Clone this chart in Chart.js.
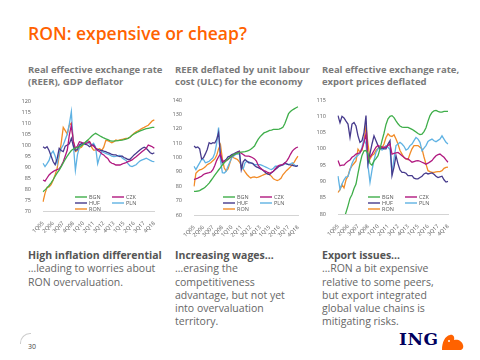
<!DOCTYPE html>
<html><head><meta charset="utf-8">
<script src="https://cdn.jsdelivr.net/npm/chart.js@4"></script>
<style>
body{margin:0;width:480px;height:360px;background:#fff;position:relative;overflow:hidden;font-family:"Open Sans",sans-serif;}
.abs{position:absolute;}
#title{left:28px;top:21px;font-size:17.5px;font-weight:600;color:#FF6200;white-space:nowrap}
.sub{top:64px;font-size:9.5px;font-weight:700;color:#7a7a7a;line-height:12px;white-space:nowrap}
.txt{top:249px;font-size:10.5px;color:#666;line-height:13.3px;white-space:nowrap}
.txt b{color:#555;font-weight:700}
canvas{position:absolute}
#pg{left:28px;top:342px;font-size:7px;color:#444}
#arc{left:20px;top:333px;width:10px;height:10px;border-left:1px solid #ccc;border-top:1px solid #ccc;border-radius:10px 0 0 0}
#ing{left:399px;top:329px;font-family:"DejaVu Serif",serif;font-weight:700;font-size:17px;color:#00005e;letter-spacing:0.5px}
</style></head>
<body>
<div id="title" class="abs">RON: expensive or cheap?</div>
<div class="abs sub" style="left:28px">Real effective exchange rate<br>(REER), GDP deflator</div>
<div class="abs sub" style="left:175px">REER deflated by unit labour<br>cost (ULC) for the economy</div>
<div class="abs sub" style="left:322px">Real effective exchange rate,<br>export prices deflated</div>

<canvas id="c1" width="140" height="145" style="left:20px;top:92px"></canvas>
<canvas id="c2" width="140" height="150" style="left:167px;top:91px"></canvas>
<canvas id="c3" width="140" height="149" style="left:314px;top:91px"></canvas>

<div class="abs txt" style="left:28px"><b>High inflation differential</b><br>…leading to worries about<br>RON overvaluation.</div>
<div class="abs txt" style="left:175px"><b>Increasing wages…</b><br>…erasing the<br>competitiveness<br>advantage, but not yet<br>into overvaluation<br>territory.</div>
<div class="abs txt" style="left:322px"><b>Export issues…</b><br>…RON a bit expensive<br>relative to some peers,<br>but export integrated<br>global value chains is<br>mitigating risks.</div>

<div id="arc" class="abs"></div>
<div id="pg" class="abs">30</div>
<div id="ing" class="abs">ING</div>
<svg class="abs" style="left:440px;top:332px" width="26" height="20" viewBox="0 0 26 20">
<path d="M2 18 C2 10 5 4 10 3 C13 2 15 5 14 8 C18 7 22 9 23 13 C24 16 22 18 20 18 Z" fill="#FF6200"/>
<circle cx="9" cy="9" r="1" fill="#fff"/>
</svg>

<script>
const quarters = ['1Q05','2Q05','3Q05','4Q05','1Q06','2Q06','3Q06','4Q06','1Q07','2Q07','3Q07','4Q07',
'1Q08','2Q08','3Q08','4Q08','1Q09','2Q09','3Q09','4Q09','1Q10','2Q10','3Q10','4Q10','1Q11','2Q11','3Q11','4Q11',
'1Q12','2Q12','3Q12','4Q12','1Q13','2Q13','3Q13','4Q13','1Q14','2Q14','3Q14','4Q14','1Q15','2Q15','3Q15','4Q15',
'1Q16','2Q16','3Q16','4Q16','1Q17','2Q17','3Q17','4Q17','1Q18','2Q18','3Q18','4Q18'];
const currencies = ['BGN','CZK','HUF','PLN','RON'];

// Chart 1: REER, GDP deflator
const reerBGN = [78.8,79.6,80.5,81.6,82.8,84.2,85.8,87.3,88.6,90.2,91.8,93.5,95,96.3,97.5,98.2,98.6,98.9,99.2,99.7,100.5,101.4,102.2,103,104,104.8,105.3,104.8,104.2,103.7,103.2,102.8,102.4,102,101.8,101.8,101.9,102,102.1,102.2,102.4,102.7,103,103.6,104.4,105,105.5,106,106.4,106.8,107.1,107.4,107.6,107.8,108,108];
const reerCZK = [84.1,83.6,85,86.4,87.3,87.9,88.5,88.8,89.2,90.5,92.4,95,97.7,104.5,109,101.5,98.5,99.5,101.5,101.2,100.8,100.8,101,101.5,100,99.5,98.5,97.5,97,96,95.5,94.5,93.9,92.4,91.7,91.4,90.9,90.9,90.9,91.3,91.7,92,92.4,92.8,93.2,94,94.7,95.5,96.2,97,97.7,98.5,100,99.6,99.2,98.5];
const reerHUF = [99.2,98.5,99.2,97.5,95,92.5,91,93.9,98.5,97.5,97,99.5,100,100.5,103,99.5,97.5,98,100,100.5,100.8,100.3,100,99.2,99.8,100,98.5,98,97.7,97.5,97.2,97,96.5,96.2,95.7,95.5,95.5,95,94.7,95,94.3,93.9,93.4,93.5,94.5,95.5,96.2,97,97.8,98.5,99,98.5,97.5,96.5,96,96.5];
const reerPLN = [91.7,90.2,91.5,93,96,97.2,95,91.5,96.2,98.5,100,102.5,105,109.5,115.2,100,88.5,95.5,99,100.8,100.3,100.5,101.5,100.5,100,100.8,99,91.5,94.7,97,96.6,96.2,95.8,95.5,94.9,94.7,94.8,95.2,95.3,94.2,93.5,93,91.5,90.5,90.2,90.6,91,92,92.8,93.2,93.6,94,93.5,93,92.6,92.4];
const reerRON = [74.2,78,80.8,81,82,84,86.5,89.5,95,101,108,106.5,105,109,110,102,97,97.5,98.5,99,100.3,101,102,101.5,99,97.7,97.7,98,98.3,97.5,99,102,102,101.5,101,101.5,102.3,102,102.3,102.5,102.8,103,103,103.5,104.5,105.3,106,106.5,107,107.6,108,108.5,109,110,111,111.4];

// Chart 2: REER deflated by ULC
const ulcBGN = [76.4,76.5,76.7,77,77.8,78.5,79.5,80.8,82.2,84,85.8,87.7,89.5,91.3,93,94.8,96.3,97.7,99,100,101,102,102.5,103,103.4,103.7,103.9,104.1,104.5,104.9,105.7,106.8,108,110.5,112.8,114.5,115.8,117.1,117.6,118.2,118.8,119.1,119.5,119.6,119.6,119.8,120.3,121,123.5,127,130.5,132,133,133.8,134.6,135.3];
const ulcCZK = [84.6,85.2,85.7,86.3,86.9,88.2,88.8,89.2,89.5,89.9,91.5,94.5,98,100.5,102.6,97.4,97.4,97.8,98.6,99.8,100.9,101.8,102.6,103.3,104,103,102.1,101.2,100.9,100.9,100.5,99.8,99,97.5,94.5,92.8,91.6,90.9,90.4,89.6,89.2,89.5,90.5,92.2,93.6,94.6,94.9,95.1,96,97.5,99.5,102.2,104.4,105.8,106.8,107.3];
const ulcHUF = [108,106.8,107.3,106,99,99.8,102.5,105.6,110.3,109.5,110.3,110,112.6,117.3,101.5,96.3,97.5,98.6,100.5,101,102,102.5,103.3,104,104.4,91.6,97,98.6,97.4,96.3,96.3,96,94.5,93.5,92.9,92.2,91.6,90.5,89.2,88.5,88.1,89.5,90.4,91.6,92.7,93.9,94.5,95.1,96.3,95.5,95.1,94.8,94.6,94.2,93.9,94.3];
const ulcPLN = [93.9,91.6,94,96.3,98.6,98.6,96.3,96.8,97.4,98.6,99.8,103,110,120.8,98,89.5,89.2,90.4,94,97,99.8,101,102.1,102.4,102.6,93,92,96.3,97.4,97,96.3,95.8,95.1,95.1,95.1,95,94.5,93.9,93.3,92.7,92,91.6,92.5,93.9,93.9,94,94.3,94.6,95.5,95.6,95.1,95.5,96.3,95,93.9,94.6];
const ulcRON = [79.9,89,90.4,91.4,91.8,92.5,93.5,95,95.7,96.5,97.8,99,101.5,106,109,99,92.7,90.6,92,96.3,100.5,99.8,99.2,98.6,97,94.5,92,90,88.2,86.8,85.8,86.3,86.5,86,86.3,86.9,87.5,88.1,88.6,89.2,88,86.9,85.2,84.5,84,84.5,85.5,88,89.5,91,92.2,93.5,95,96.8,99,101];

// Chart 3: REER, export prices deflated
const expBGN = [74,75.5,77,78.5,80.5,82.5,84.8,86,87.8,89.2,92.5,95.5,98,99.4,99.5,98.5,95.5,95,96.3,97,97.9,100,102.5,104.8,107.5,109.2,110,110.2,109.6,108.6,107.7,107,106.7,106.6,106.6,106.6,106.3,106,105.6,105.2,104.7,104.4,104.5,105.3,106.5,108.5,110.2,111.2,111.7,111.8,111.5,111.3,111.3,111.5,111.5,111.5];
const expCZK = [96.4,94.8,95,95,95.7,96.2,96.6,97.4,97.8,98.4,98.6,98.8,100,102,104.6,96.9,97.5,98.4,99.5,100.5,101,100.8,100.6,100.5,100.5,101,101.5,98.4,98.6,98.8,98.9,98.4,97.9,97.4,96.9,96.9,96.4,95.9,96.1,96.3,96.4,96.2,95.9,95.6,95.3,95.6,96,96.4,97.2,97.9,98.2,98.4,97.9,97.4,96.6,95.9];
const expHUF = [110.2,108,110,109.5,108.5,107.6,103.5,107.6,108.1,107,104,102,102.5,105,110.2,95.4,98.5,101.5,104,102.5,101,100,100.3,100,100,101.5,102.5,91.8,94.4,97.9,95.4,93.5,92.8,92.8,92.5,91.8,91.8,91.8,91,90.8,90.8,91.2,91.6,92.3,92.6,92.3,92.5,92.6,92.2,91.6,91.2,91.4,91.6,90.5,89.8,90];
const expPLN = [91.6,87.6,89.2,90.5,91.4,91.5,93.5,95.5,96.8,97.5,98,98.7,100.5,103,101.5,94.8,89.7,93.5,96.5,98.9,100,100.3,99.6,100.2,101,100.5,99.8,92.8,96.9,101,101.5,102,101.5,100.8,99.6,100,101,101.5,102.5,103.5,103,102,99.4,100.2,101,102.3,102.7,103,102.5,102.2,102.6,103,104,103,102,101.5];
const expRON = [86.6,87.5,89,88,90.5,91.7,93.8,94.8,95.5,96.3,99.9,99,99.5,102.5,107,101.5,96.9,98,98.4,99.5,100.2,100.5,100.3,101.5,103.5,104.6,104,103.8,104.3,103,101.5,99.5,98.4,97.3,96.9,96.7,98.5,100,101,101,101,100.5,100,97.5,95.3,93.3,93,92.8,92.8,92.9,93,93,93.3,94,94.3,94.4];

const colors = {BGN:'#3FAE4A', CZK:'#B0187F', HUF:'#463A8C', PLN:'#5FB2E3', RON:'#F28B26'};

const legendPlugin = {
  id:'inLegend',
  afterDraw(chart, args, o){
    const ctx = chart.ctx, a = chart.chartArea;
    ctx.save();
    ctx.font = '5.5px "Open Sans"';
    ctx.textBaseline = 'middle';
    chart.data.datasets.forEach((ds,i)=>{
      const col = i%2, row = Math.floor(i/2);
      const x = a.left + o.x + col*o.colGap;
      const y = a.bottom + o.y + row*o.rowGap;
      ctx.strokeStyle = ds.borderColor; ctx.lineWidth = 1.4;
      ctx.beginPath(); ctx.moveTo(x,y); ctx.lineTo(x+o.lineLen,y); ctx.stroke();
      ctx.fillStyle = '#595959';
      ctx.fillText(ds.label, x+o.lineLen+2, y);
    });
    ctx.restore();
  }
};

function makeChart(id, series, min, max, step, yw, pad, leg){
  new Chart(document.getElementById(id), {
    type:'line',
    data:{labels:quarters, datasets: currencies.map((c,i)=>({
      label:c, data:series[i], borderColor:colors[c], borderWidth:1.3,
      pointRadius:0, tension:0, fill:false
    }))},
    options:{
      responsive:false, animation:false, devicePixelRatio:1,
      layout:{padding:pad},
      plugins:{legend:{display:false}, tooltip:{enabled:false}, inLegend:leg},
      scales:{
        x:{
          grid:{display:false}, border:{display:true,color:'#d4d4d4',width:1},
          ticks:{autoSkip:false, maxRotation:45, minRotation:45, padding:1,
            font:{size:5.5,family:'"Open Sans"'}, color:'#595959',
            callback(v,i){ return i%5===0 ? this.getLabelForValue(v) : null; }},
          afterFit(s){ s.height = 26; }
        },
        y:{
          min:min, max:max,
          grid:{display:false}, border:{display:false},
          ticks:{stepSize:step, padding:4, font:{size:5.5,family:'"Open Sans"'}, color:'#595959'},
          afterFit(s){ s.width = yw; }
        }
      }
    },
    plugins:[legendPlugin]
  });
}

makeChart('c1',[reerBGN,reerCZK,reerHUF,reerPLN,reerRON],70,120,5,23,{top:9,right:5,left:0,bottom:0},{x:32,y:-14,rowGap:6,colGap:37,lineLen:12});
makeChart('c2',[ulcBGN,ulcCZK,ulcHUF,ulcPLN,ulcRON],60,140,10,27,{top:9,right:9,left:0,bottom:0},{x:29,y:-18,rowGap:6,colGap:37,lineLen:12});
makeChart('c3',[expBGN,expCZK,expHUF,expPLN,expRON],80,115,5,24,{top:9,right:6,left:0,bottom:0},{x:30,y:-17,rowGap:6,colGap:37,lineLen:12});
</script>
</body></html>
